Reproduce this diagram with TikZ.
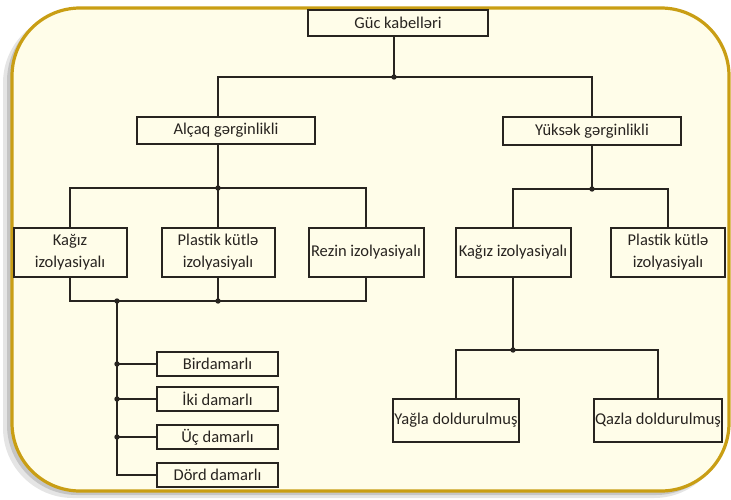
\documentclass[tikz,border=0pt]{standalone}
\usepackage{fontspec}
\setmainfont{Carlito}
\usepackage{tikz}
\definecolor{khungvang}{RGB}{201,158,20}
\definecolor{nenkem}{RGB}{255,253,233}
\definecolor{netve}{RGB}{40,36,32}

\begin{document}
\begin{tikzpicture}[x=1pt,y=-1pt,
	hop/.style={draw=netve,line width=2pt,fill=nenkem,inner sep=1pt,align=center,text=netve,font=\fontsize{16.5}{22}\selectfont},
	noi/.style={draw=netve,line width=1.8pt},
	cham/.style={fill=netve}]
			\useasboundingbox (0,0) rectangle (731,499);
			\fill[black,opacity=.10,rounded corners=70pt] (3,13) rectangle (724,498);
			\fill[black,opacity=.14,rounded corners=70pt] (7,11) rectangle (726,495);
			\draw[khungvang,line width=3.2pt,fill=nenkem,rounded corners=68pt] (12,8) rectangle (729,491);
				\node[hop,minimum width=180pt,minimum height=26pt] (guc) at (398,23) {Güc kabelləri};
				\node[hop,minimum width=178pt,minimum height=27pt] (alcaq) at (226,130.5) {Alçaq gərginlikli};
				\node[hop,minimum width=178pt,minimum height=28pt] (yuksek) at (592,131) {Yüksək gərginlikli};
				\node[hop,minimum width=113pt,minimum height=49pt] (kagiza) at (70,252.5) {Kağız\\izolyasiyalı};
				\node[hop,minimum width=113pt,minimum height=49pt] (plastika) at (218,252.5) {Plastik kütlə\\izolyasiyalı};
				\node[hop,minimum width=115pt,minimum height=49pt] (rezin) at (366,252.5) {Rezin izolyasiyalı};
				\node[hop,minimum width=115pt,minimum height=49pt] (kagizb) at (513,252.5) {Kağız izolyasiyalı};
				\node[hop,minimum width=114pt,minimum height=49pt] (plastikb) at (668,252.5) {Plastik kütlə\\izolyasiyalı};
				\node[hop,minimum width=121pt,minimum height=24pt] (bir) at (217.5,364) {Birdamarlı};
				\node[hop,minimum width=121pt,minimum height=24pt] (iki) at (217.5,399) {İki damarlı};
				\node[hop,minimum width=121pt,minimum height=24pt] (uc) at (217.5,437) {Üç damarlı};
				\node[hop,minimum width=121pt,minimum height=24pt] (dord) at (217.5,475) {Dörd damarlı};
				\node[hop,minimum width=124pt,minimum height=43pt] (yagla) at (456,420.5) {Yağla doldurulmuş};
				\node[hop,minimum width=122pt,minimum height=43pt] (qazla) at (658,420.5) {Qazla doldurulmuş};
			\coordinate (t0) at (394,77);
			\coordinate (a0) at (218,188);
			\coordinate (y0) at (592,189);
			\coordinate (b0) at (117,301);
			\coordinate (b1) at (218,301);
			\coordinate (c0) at (513,350);
			\draw[noi] (t0 |- guc.south) -- (t0);
			\draw[noi] (a0 |- alcaq.north) |- (t0) -| (y0 |- yuksek.north);
			\draw[noi] (a0 |- alcaq.south) -- (a0);
			\draw[noi] (y0 |- yuksek.south) -- (y0);
			\draw[noi] (kagiza.north) |- (a0) -| (rezin.north);
			\draw[noi] (a0) -- (plastika.north);
			\draw[noi] (kagizb.north) |- (y0) -| (plastikb.north);
			\draw[noi] (kagiza.south) |- (b1) -| (rezin.south);
			\draw[noi] (plastika.south) -- (b1);
			\draw[noi] (b0) |- (dord.west);
			\draw[noi] (b0 |- bir.west) -- (bir.west);
			\draw[noi] (b0 |- iki.west) -- (iki.west);
			\draw[noi] (b0 |- uc.west) -- (uc.west);
			\draw[noi] (kagizb.south) -- (c0);
			\draw[noi] (yagla.north) |- (c0) -| (qazla.north);
				\fill[cham] (t0) circle (2.7);
				\fill[cham] (a0) circle (2.7);
				\fill[cham] (y0) circle (2.7);
				\fill[cham] (b0) circle (2.7);
				\fill[cham] (b1) circle (2.7);
				\fill[cham] (c0) circle (2.7);
				\fill[cham] (b0 |- bir.west) circle (2.7);
				\fill[cham] (b0 |- iki.west) circle (2.7);
				\fill[cham] (b0 |- uc.west) circle (2.7);
		\end{tikzpicture}
\end{document}
